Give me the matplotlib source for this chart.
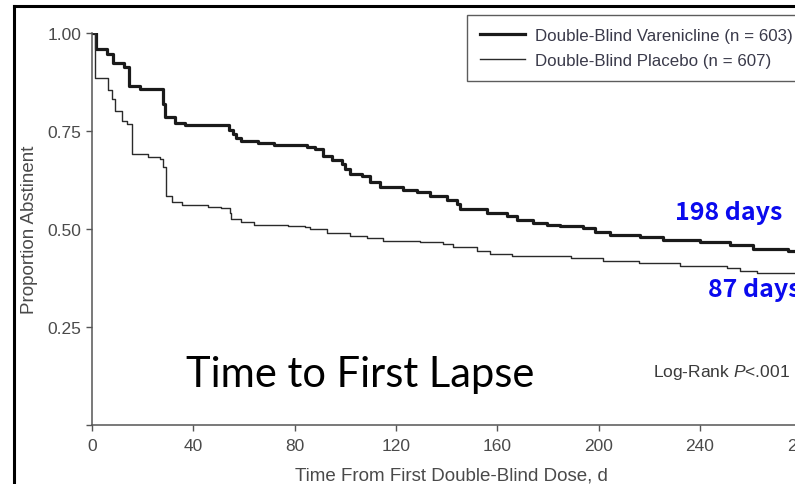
import matplotlib
matplotlib.use("Agg")
import matplotlib.pyplot as plt
from matplotlib.lines import Line2D

plt.rcParams['font.family'] = ['Liberation Sans', 'DejaVu Sans']
plt.rcParams['mathtext.fontset'] = 'custom'
plt.rcParams['mathtext.it'] = 'Liberation Sans:italic'
plt.rcParams['mathtext.rm'] = 'Liberation Sans'

# Kaplan-Meier curves (day, proportion abstinent)
var_days = [0, 1.5, 6.0, 8.3, 12.6, 14.5, 19, 28, 28.8, 32.8, 36.7, 54, 55.7, 57, 59,
            65.5, 72, 85, 88, 91, 94.6, 98.6, 100, 101.9, 106.5, 109.8, 113.7, 122.9,
            128.2, 133.4, 140, 144, 145.3, 156, 163.7, 167.7, 174, 179.5, 184.8, 193.9,
            198.6, 204.5, 216.3, 225.5, 240, 251.9, 261, 274.8, 285]
var_surv = [1.0, 0.959, 0.946, 0.923, 0.912, 0.866, 0.857, 0.82, 0.785, 0.770, 0.766, 0.752,
            0.742, 0.732, 0.725, 0.719, 0.715, 0.708, 0.704, 0.687, 0.677, 0.666, 0.652,
            0.640, 0.634, 0.619, 0.606, 0.599, 0.594, 0.585, 0.575, 0.564, 0.551, 0.541,
            0.532, 0.524, 0.515, 0.510, 0.508, 0.502, 0.493, 0.485, 0.479, 0.472, 0.466,
            0.460, 0.449, 0.445, 0.445]

pla_days = [0, 1.2, 6.4, 7.8, 9, 11.7, 13.7, 15.7, 22, 26.8, 28.2, 29.2, 31.5, 35.4, 45.8,
            51, 54.5, 55, 59, 64, 77.5, 84, 86, 92.7, 101.9, 108.4, 115, 129.5, 138.7,
            142.7, 151.9, 157, 166, 189, 201.7, 216, 232, 250.5, 255.8, 262.4, 285]
pla_surv = [1.0, 0.884, 0.855, 0.832, 0.802, 0.776, 0.768, 0.691, 0.684, 0.679, 0.658, 0.585,
            0.568, 0.561, 0.557, 0.554, 0.540, 0.525, 0.517, 0.511, 0.507, 0.504, 0.500,
            0.491, 0.483, 0.476, 0.470, 0.466, 0.462, 0.453, 0.445, 0.436, 0.432, 0.425,
            0.418, 0.413, 0.406, 0.400, 0.394, 0.388, 0.388]

x_ticks = [0, 40, 80, 120, 160, 200, 240, 280]
y_ticks = [0.25, 0.50, 0.75, 1.00]
y_labels = ['0.25', '0.50', '0.75', '1.00']
labels = ['Double-Blind Varenicline (n = 603)', 'Double-Blind Placebo (n = 607)']

W, H = 795, 485
fig = plt.figure(figsize=(W / 100, H / 100), dpi=100)

# axes: x=0 at px 92, 2.533 px per day; y=1 at px 34, y=0 at px 426
xmax = 285
ax = fig.add_axes([92 / W, (H - 426) / H, xmax * 2.533 / W, 392 / H])
ax.plot(var_days, var_surv, drawstyle='steps-post', color='#1a1a1a', lw=2.3, label=labels[0])
ax.plot(pla_days, pla_surv, drawstyle='steps-post', color='#2a2a2a', lw=1.0, label=labels[1])

ax.set_xlim(0, xmax)
ax.set_ylim(0, 1.0)
ax.set_xticks(x_ticks)
ax.set_yticks([0] + y_ticks)
ax.set_yticklabels([''] + y_labels)
for s in ['top', 'right']:
    ax.spines[s].set_visible(False)
for s in ['left', 'bottom']:
    ax.spines[s].set_color('#555555')
    ax.spines[s].set_linewidth(1.1)
ax.tick_params(direction='out', length=4.5, width=1.0, color='#555555',
               labelcolor='#4a4a4a', labelsize=12.5)
ax.tick_params(axis='x', pad=5)
ax.tick_params(axis='y', pad=3)

fig.text(30 / W, 1 - 230 / H, 'Proportion Abstinent', rotation=90, ha='center', va='center',
         fontsize=13.5, color='#4a4a4a')
fig.text(451 / W, 1 - 476 / H, 'Time From First Double-Blind Dose, d', ha='center',
         va='center', fontsize=13.5, color='#4a4a4a')

leg = ax.legend(loc='upper left', bbox_to_anchor=(467 / W, 1 - 16 / H),
                bbox_transform=fig.transFigure, fontsize=12.2, frameon=True, fancybox=False,
                handlelength=2.7, borderpad=0.75, labelspacing=0.6, handletextpad=0.55,
                borderaxespad=0)
leg.get_frame().set_edgecolor('#333333')
leg.get_frame().set_linewidth(1.0)
for t in leg.get_texts():
    t.set_color('#3a3a4a')

fig.text(675 / W, 1 - 213 / H, '198 days', ha='left', va='center', fontsize=18,
         fontweight='bold', color='#0a0aee', family=['Noto Sans CJK KR', 'DejaVu Sans'])
fig.text(708 / W, 1 - 290 / H, '87 days', ha='left', va='center', fontsize=18,
         fontweight='bold', color='#0a0aee', family=['Noto Sans CJK KR', 'DejaVu Sans'])
fig.text(360 / W, 1 - 375 / H, 'Time to First Lapse', ha='center', va='center', fontsize=30,
         color='black', family=['Lato', 'DejaVu Sans'])
fig.text(790 / W, 1 - 372 / H, r'Log-Rank $P$<.001', ha='right', va='center', fontsize=12.5,
         color='#3a3a3a')

# slide frame
fig.add_artist(Line2D([14 / W, 14 / W], [0, 1 - 7 / H], color='black', lw=2.2,
                      transform=fig.transFigure))
fig.add_artist(Line2D([14 / W, 1], [1 - 7 / H, 1 - 7 / H], color='black', lw=2.2,
                      transform=fig.transFigure))

fig.savefig('out.png', dpi=100)
